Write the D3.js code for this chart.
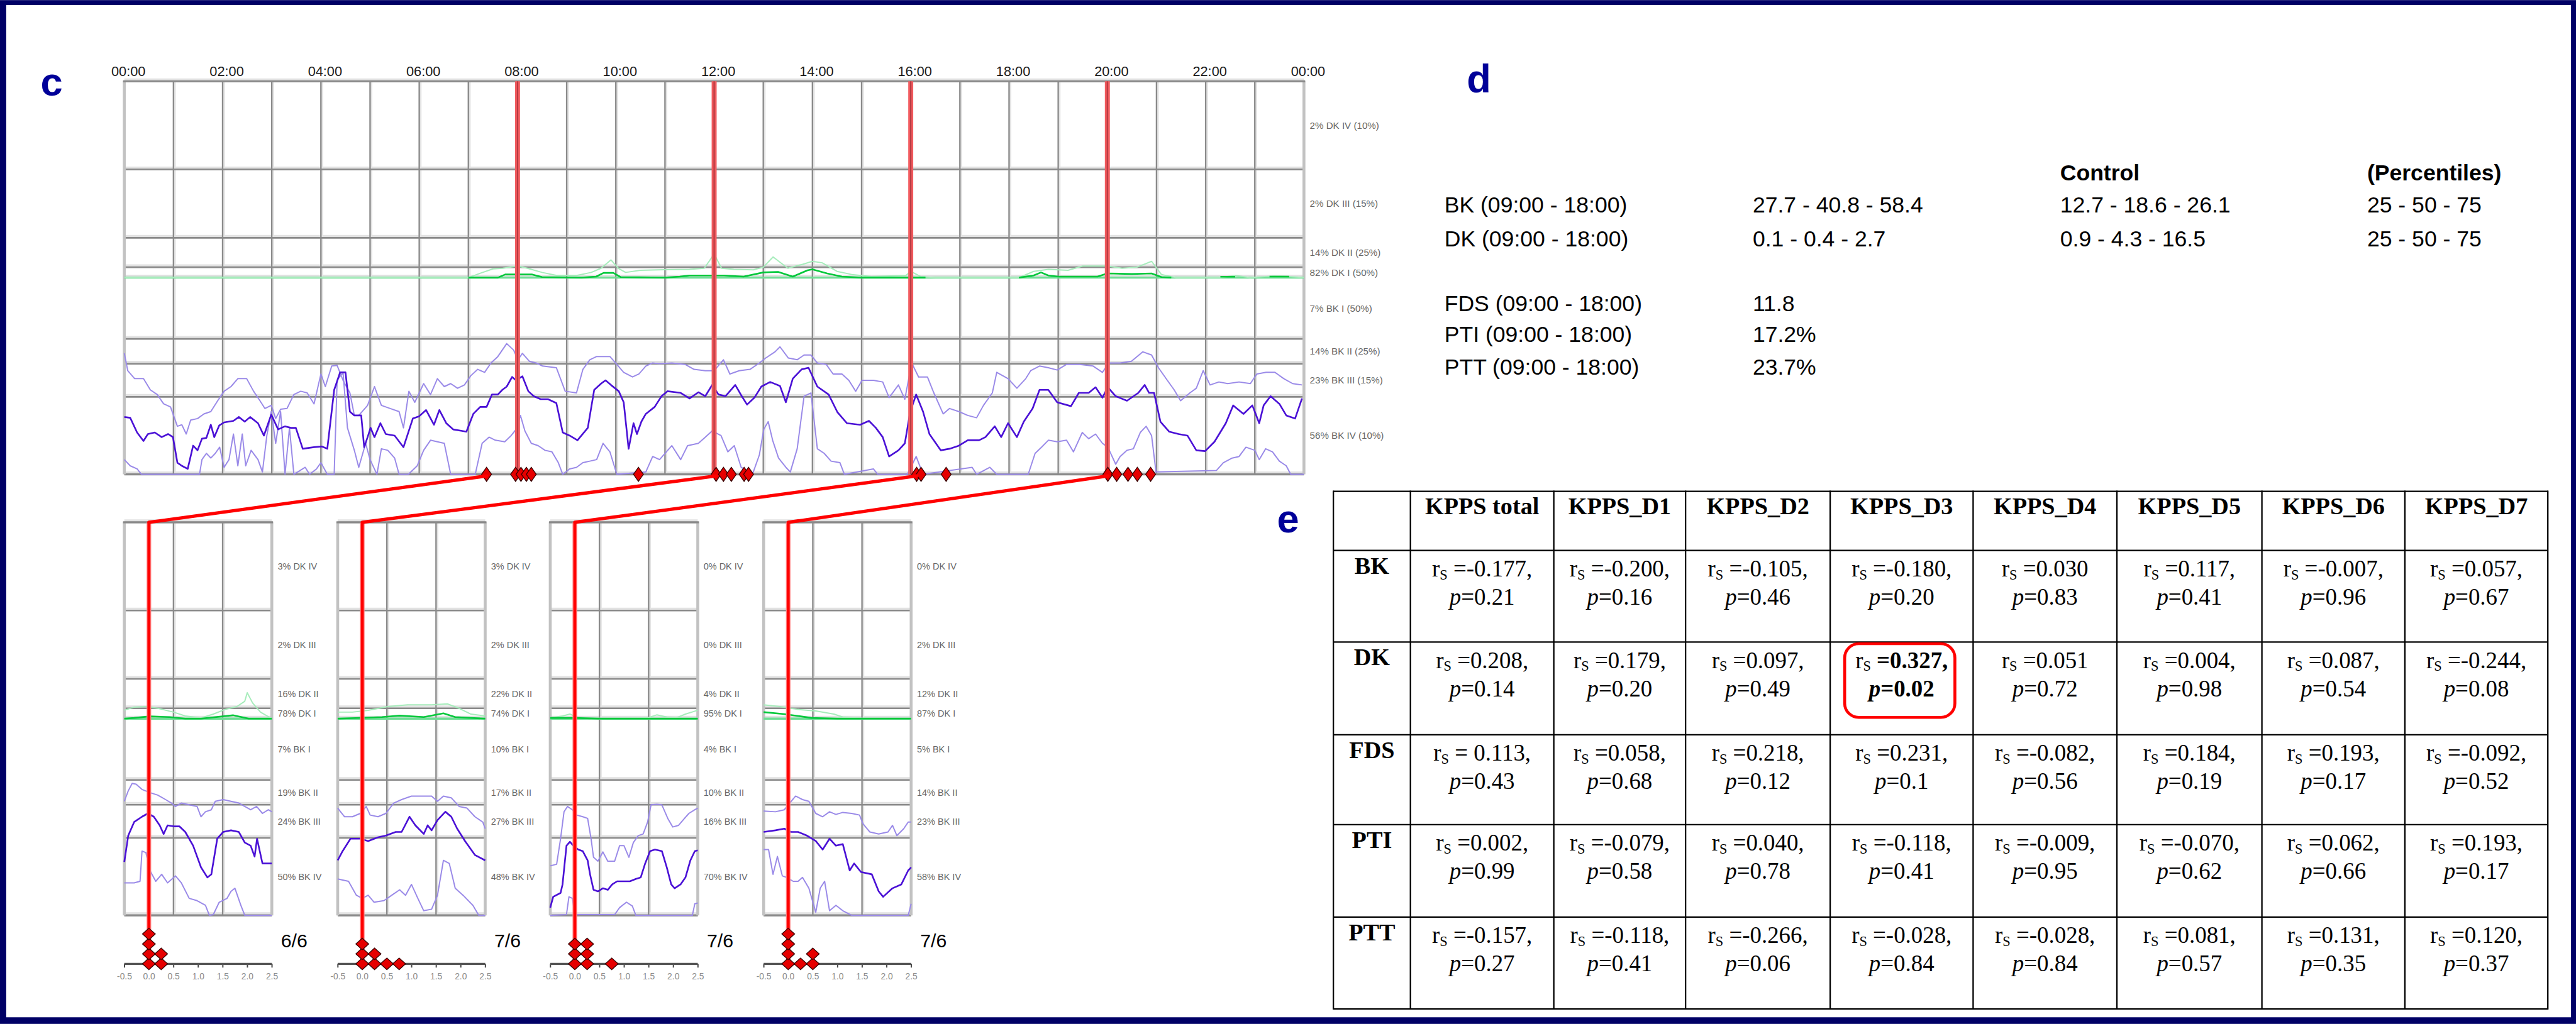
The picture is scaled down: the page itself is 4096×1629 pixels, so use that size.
<!DOCTYPE html>
<html><head><meta charset="utf-8">
<script src="https://cdn.jsdelivr.net/npm/d3@7"></script>
<style>html,body{margin:0;padding:0;background:#fff;overflow:hidden}</style>
</head><body>
<svg id="fig" width="4096" height="1629" viewBox="0 0 6217 2472"></svg>
<script>
// ---------- 24 h kinetigraph (panel c, top) ----------
const hourTicks = ["00:00","02:00","04:00","06:00","08:00","10:00","12:00","14:00","16:00","18:00","20:00","22:00","00:00"];
const dayBandLabels = ["2% DK IV (10%)","2% DK III (15%)","14% DK II (25%)","82% DK I (50%)","7% BK I (50%)","14% BK II (25%)","23% BK III (15%)","56% BK IV (10%)"];
// [hour, band level]; BK levels grow downward from the baseline, DK levels upward
const bkMedianDay = [[0,3.26],[0.12,3.27],[0.26,3.46],[0.39,3.57],[0.48,3.48],[0.62,3.46],[0.76,3.52],[0.89,3.48],[0.99,3.52],[1.08,3.85],[1.17,3.89],[1.29,3.93],[1.40,3.63],[1.49,3.69],[1.58,3.54],[1.67,3.53],[1.76,3.36],[1.83,3.52],[1.93,3.37],[2.03,3.33],[2.22,3.31],[2.33,3.26],[2.45,3.32],[2.56,3.26],[2.72,3.34],[2.84,3.50],[2.99,3.23],[3.13,3.42],[3.27,3.38],[3.39,3.40],[3.49,3.40],[3.63,3.67],[3.86,3.65],[4.02,3.64],[4.13,3.67],[4.27,2.79],[4.39,2.26],[4.50,2.26],[4.59,3.19],[4.68,3.24],[4.82,3.24],[4.88,3.65],[4.95,3.52],[5.01,3.40],[5.09,3.52],[5.21,3.34],[5.32,3.48],[5.50,3.50],[5.68,3.65],[5.87,3.28],[6.00,3.25],[6.14,3.17],[6.30,3.36],[6.41,3.17],[6.55,3.34],[6.69,3.42],[6.87,3.44],[6.96,3.45],[7.10,3.22],[7.24,3.13],[7.37,3.13],[7.48,2.93],[7.60,2.93],[7.69,2.79],[7.78,2.69],[7.89,2.40],[7.97,2.50],[8.10,2.38],[8.22,2.83],[8.33,2.98],[8.47,3.03],[8.62,3.03],[8.79,3.08],[8.92,3.46],[9.06,3.50],[9.22,3.56],[9.43,3.40],[9.56,2.79],[9.70,2.60],[9.79,2.50],[9.90,2.64],[10.06,2.83],[10.16,3.07],[10.26,3.67],[10.36,3.34],[10.43,3.48],[10.52,3.32],[10.61,3.22],[10.79,3.13],[10.93,2.98],[11.05,2.83],[11.32,2.88],[11.50,3.02],[11.68,2.86],[11.82,2.98],[11.96,2.64],[12.09,2.93],[12.23,2.98],[12.43,2.64],[12.55,2.95],[12.67,3.10],[12.82,3.01],[12.96,2.69],[13.14,2.55],[13.34,2.67],[13.46,3.07],[13.60,2.45],[13.78,2.17],[13.92,2.12],[14.10,2.69],[14.33,2.93],[14.51,3.20],[14.70,3.34],[14.97,3.36],[15.15,3.31],[15.29,3.40],[15.43,3.52],[15.56,3.77],[15.75,3.69],[15.88,3.60],[15.99,3.19],[16.11,2.93],[16.25,3.19],[16.38,3.48],[16.61,3.69],[16.79,3.67],[16.98,3.63],[17.16,3.56],[17.39,3.56],[17.52,3.52],[17.71,3.38],[17.84,3.52],[17.98,3.34],[18.16,3.52],[18.30,3.32],[18.48,3.15],[18.62,2.79],[18.80,2.79],[18.98,3.07],[19.26,3.12],[19.42,2.88],[19.62,2.88],[19.76,2.71],[19.90,3.01],[20.01,2.71],[20.17,2.98],[20.40,3.05],[20.63,2.88],[20.76,2.64],[20.85,2.88],[20.95,2.88],[21.08,3.32],[21.26,3.45],[21.45,3.48],[21.63,3.50],[21.81,3.69],[21.99,3.70],[22.18,3.58],[22.41,3.34],[22.56,3.11],[22.77,3.22],[22.95,3.11],[23.09,3.34],[23.18,3.11],[23.32,2.98],[23.50,3.09],[23.64,3.24],[23.82,3.28],[23.96,3.02]];
const bkLowerDay = [[0,1.58],[0.07,2.21],[0.21,2.45],[0.39,2.45],[0.53,2.79],[0.67,2.93],[0.80,3.09],[0.94,3.13],[1.08,3.38],[1.17,3.36],[1.26,3.48],[1.35,3.30],[1.49,3.28],[1.62,3.22],[1.76,3.19],[1.90,3.05],[2.03,2.83],[2.17,2.69],[2.31,2.45],[2.49,2.45],[2.63,2.83],[2.76,3.05],[2.86,3.15],[2.99,3.11],[3.08,3.28],[3.18,3.16],[3.31,3.15],[3.45,2.93],[3.59,2.83],[3.72,2.88],[3.86,3.09],[4.00,2.31],[4.09,2.69],[4.22,2.07],[4.33,2.05],[4.45,2.50],[4.59,2.88],[4.68,3.24],[4.77,3.24],[4.95,3.11],[5.09,2.69],[5.23,3.11],[5.41,3.15],[5.59,3.19],[5.68,3.40],[5.79,2.83],[5.91,3.07],[6.09,2.60],[6.23,2.93],[6.37,2.45],[6.51,2.69],[6.64,2.60],[6.78,2.74],[6.92,2.64],[7.05,2.36],[7.19,2.17],[7.33,2.26],[7.46,1.97],[7.60,1.71],[7.78,1.19],[7.92,1.45],[8.01,1.84],[8.10,1.58],[8.24,1.90],[8.38,1.97],[8.51,2.07],[8.79,2.12],[8.97,2.83],[9.20,2.88],[9.33,2.17],[9.47,1.84],[9.61,1.71],[9.88,1.71],[10.02,2.02],[10.16,2.26],[10.34,2.40],[10.47,2.31],[10.61,2.07],[10.75,1.97],[10.89,2.00],[11.14,1.97],[11.41,2.02],[11.59,2.17],[11.82,2.21],[12.00,2.21],[12.19,1.84],[12.32,2.31],[12.51,2.21],[12.73,2.17],[12.92,1.97],[13.05,1.77],[13.24,1.52],[13.34,1.32],[13.51,1.77],[13.69,1.84],[13.83,1.65],[13.97,1.65],[14.10,1.97],[14.28,2.02],[14.42,2.31],[14.60,2.31],[14.74,2.50],[14.88,2.83],[15.01,2.50],[15.24,2.50],[15.43,2.55],[15.56,3.01],[15.75,2.64],[15.88,3.03],[16.02,1.97],[16.16,2.40],[16.34,2.40],[16.47,2.88],[16.66,3.22],[16.79,3.15],[16.98,3.19],[17.16,3.24],[17.34,3.27],[17.48,3.11],[17.66,2.88],[17.75,2.26],[17.98,2.45],[18.16,2.74],[18.34,2.45],[18.44,2.21],[18.62,2.07],[18.80,2.12],[18.98,2.19],[19.17,2.02],[19.44,2.02],[19.71,2.07],[19.90,2.26],[20.03,1.97],[20.26,1.97],[20.49,1.90],[20.72,1.52],[20.90,1.65],[21.04,2.12],[21.22,2.50],[21.36,2.79],[21.49,3.05],[21.68,2.88],[21.81,2.74],[21.95,2.21],[22.09,2.64],[22.27,2.55],[22.45,2.60],[22.68,2.55],[22.91,2.60],[23.04,2.31],[23.23,2.26],[23.41,2.26],[23.59,2.45],[23.77,2.60],[23.96,2.64]];
const bkUpperDay = [[0,3.81],[0.12,3.89],[0.26,3.93],[0.35,4],[1.53,4],[1.58,3.81],[1.67,3.73],[1.76,3.79],[1.85,3.73],[1.94,3.65],[2.03,3.91],[2.13,3.81],[2.22,3.48],[2.31,3.89],[2.40,3.48],[2.47,3.89],[2.58,3.69],[2.72,3.81],[2.81,3.97],[2.90,3.50],[2.99,3.19],[3.08,3.60],[3.18,3.19],[3.27,4],[3.36,3.40],[3.45,4],[3.68,3.91],[3.77,4],[3.91,3.93],[4.00,3.85],[4.13,4],[4.27,4],[4.33,2.50],[4.45,2.26],[4.54,3.40],[4.68,3.69],[4.77,3.91],[4.91,3.60],[5.00,3.81],[5.14,4],[5.23,3.67],[5.36,3.69],[5.50,3.79],[5.59,4],[5.78,4],[5.96,3.89],[6.09,3.69],[6.23,3.56],[6.37,3.58],[6.51,3.60],[6.64,4],[7.14,4],[7.28,3.60],[7.42,3.52],[7.55,3.56],[7.74,3.58],[7.87,3.50],[7.97,3.42],[8.06,3.24],[8.15,3.44],[8.28,3.60],[8.42,3.63],[8.56,3.69],[8.70,3.71],[8.83,3.85],[8.92,4],[9.06,3.93],[9.20,3.91],[9.33,3.85],[9.47,3.83],[9.61,3.81],[9.74,3.60],[9.88,3.71],[10.02,4],[10.61,3.97],[10.75,3.77],[10.89,3.81],[11.14,3.63],[11.32,3.81],[11.46,3.63],[11.68,3.60],[11.82,3.52],[11.96,3.44],[12.14,3.50],[12.28,3.71],[12.41,3.63],[12.55,3.91],[12.78,4],[12.92,3.75],[13.01,3.42],[13.10,3.32],[13.19,3.56],[13.31,3.79],[13.46,3.91],[13.55,3.97],[13.69,3.67],[13.83,2.98],[13.97,2.88],[14.10,3.67],[14.24,3.73],[14.38,3.83],[14.56,3.85],[14.65,4],[15.24,3.93],[15.33,4],[15.93,4],[16.11,3.77],[16.25,4],[17.25,3.91],[17.34,4],[17.61,3.91],[17.75,4],[18.39,4],[18.53,3.73],[18.66,3.65],[18.80,3.56],[18.98,3.58],[19.17,3.56],[19.31,3.71],[19.49,3.46],[19.62,3.54],[19.76,3.48],[19.90,3.60],[20.01,3.65],[20.17,3.87],[20.26,3.77],[20.40,3.69],[20.53,3.67],[20.67,3.46],[20.79,3.38],[20.90,3.50],[20.99,3.97],[22.22,3.95],[22.36,3.85],[22.54,3.79],[22.68,3.77],[22.82,3.65],[23.00,3.69],[23.09,3.81],[23.22,3.67],[23.36,3.71],[23.50,3.83],[23.64,3.89],[23.73,4],[24,4]];
const dkLowerDay = [[0,0],[24,0]];
const dkMedianDay = [[7.0,0],[7.6,0],[7.75,0.3],[8.3,0.3],[8.5,0.05],[9.3,0],[9.6,0.1],[9.75,0.45],[9.95,0.45],[10.1,0.05],[11.0,0],[11.3,0.1],[11.5,0.2],[12.2,0.2],[12.6,0.1],[13.0,0.5],[13.3,0.55],[13.6,0.1],[13.9,0.7],[14.0,0.8],[14.3,0.4],[14.6,0.1],[15.0,0],[16.3,0],[16.35,null],[18.2,0],[18.5,0.2],[18.65,0.5],[18.8,0.2],[19.0,0.1],[19.8,0.1],[20.0,0.4],[20.5,0.35],[20.9,0.4],[21.1,0.05],[21.3,0],[21.35,null],[22.3,0.08],[22.6,0.08],[22.65,null],[23.3,0.1],[23.7,0.1]];
const dkUpperDay = [[0,0],[7.0,0],[7.2,0.35],[7.5,0.84],[7.7,0.9],[8.0,1.04],[8.2,0.9],[8.5,0.5],[8.8,0.2],[9.2,0.2],[9.5,0.5],[9.7,0.9],[9.9,1.25],[10.05,0.9],[10.2,0.5],[10.5,0.7],[11.0,0.76],[11.5,0.8],[11.8,0.9],[12.0,1.45],[12.15,0.9],[12.4,0.8],[12.8,0.75],[13.0,1.0],[13.2,1.35],[13.5,0.9],[13.8,1.1],[14.0,1.2],[14.2,1.15],[14.5,0.6],[14.8,0.3],[15.2,0.1],[15.9,0.2],[16.0,0.6],[16.2,0.1],[16.5,0],[18.2,0],[18.5,0.6],[18.8,0.8],[19.2,0.7],[19.5,1.04],[20.0,1.04],[20.3,0.9],[20.6,1.0],[20.9,1.2],[21.1,0.3],[21.4,0],[22.3,0],[22.6,0.2],[22.9,0],[23.4,0.15],[23.7,0.1],[24,0]];
const markerHours = [8, 12, 16, 20];
const doseHours = [7.37, 7.96, 8.07, 8.18, 8.28, 10.46, 12.04, 12.19, 12.35, 12.61, 12.70, 16.12, 16.21, 16.72, 20.01, 20.19, 20.42, 20.61, 20.88];
const windowStartHours = [7.37, 12.04, 16.12, 20.01];

// ---------- dose-aligned 3 h windows (panel c, bottom) ----------
const windowDates = ["6/6", "7/6", "7/6", "7/6"];
const win1Labels = ["3% DK IV","2% DK III","16% DK II","78% DK I","7% BK I","19% BK II","24% BK III","50% BK IV"];
const win2Labels = ["3% DK IV","2% DK III","22% DK II","74% DK I","10% BK I","17% BK II","27% BK III","48% BK IV"];
const win3Labels = ["0% DK IV","0% DK III","4% DK II","95% DK I","4% BK I","10% BK II","16% BK III","70% BK IV"];
const win4Labels = ["0% DK IV","2% DK III","12% DK II","87% DK I","5% BK I","14% BK II","23% BK III","58% BK IV"];

const win1BkLower = [[-0.5,1.86],[-0.42,1.44],[-0.34,1.14],[-0.26,1.17],[-0.14,1.38],[0.02,1.51],[0.18,1.61],[0.34,1.79],[0.46,1.93],[0.54,2.05],[0.66,1.93],[0.82,2.0],[0.98,2.05],[1.06,2.36],[1.15,2.21],[1.27,2.15],[1.35,1.86],[1.51,1.79],[1.67,1.86],[1.83,1.93],[1.95,2.05],[2.07,2.15],[2.19,2.05],[2.31,2.26],[2.43,2.15],[2.5,2.21]];
const win1BkMedian = [[-0.5,3.31],[-0.42,2.93],[-0.30,2.52],[-0.14,2.36],[-0.02,2.26],[0.10,2.36],[0.22,2.62],[0.30,2.88],[0.38,2.62],[0.50,2.65],[0.62,2.65],[0.74,2.82],[0.90,3.10],[1.06,3.38],[1.19,3.51],[1.27,3.47],[1.39,3.01],[1.51,2.82],[1.67,2.77],[1.83,2.82],[1.95,3.06],[2.07,3.10],[2.15,3.24],[2.20,3.01],[2.31,3.33],[2.5,3.33]];
const win1BkUpper = [[-0.5,3.58],[-0.30,3.58],[-0.18,3.56],[-0.14,3.17],[-0.06,3.19],[0.02,3.42],[0.14,3.56],[0.26,3.47],[0.38,3.58],[0.54,3.49],[0.66,3.58],[0.82,3.78],[0.98,3.81],[1.15,3.87],[1.23,4],[1.31,3.99],[1.43,3.83],[1.59,3.78],[1.67,3.69],[1.75,3.65],[1.87,3.87],[1.95,4],[2.5,4]];
const win1DkMedian = [[-0.5,0],[-0.3,0.07],[0.02,0.22],[0.42,0.15],[0.74,0],[1.06,0],[1.71,0.33],[2.03,0],[2.5,0]];
const win1DkUpper = [[-0.5,0.81],[-0.3,1.04],[-0.06,1.06],[0.18,1.0],[0.5,0.63],[0.74,0.26],[1.06,0.07],[1.31,0.44],[1.55,0.89],[1.79,1.06],[1.95,1.24],[2.0,1.53],[2.11,1.18],[2.27,0.63],[2.5,0]];

const win2BkLower = [[-0.5,2.10],[-0.36,2.36],[-0.2,2.36],[-0.04,2.26],[0.08,2.05],[0.16,2.31],[0.32,2.36],[0.48,2.26],[0.64,1.93],[0.8,1.79],[1.0,1.65],[1.2,1.65],[1.41,1.65],[1.53,1.86],[1.65,1.65],[1.81,1.72],[1.97,2.05],[2.13,2.10],[2.29,2.36],[2.45,2.52],[2.5,2.72]];
const win2BkMedian = [[-0.5,3.29],[-0.4,3.17],[-0.24,3.01],[-0.04,3.01],[0.12,3.04],[0.32,2.98],[0.48,2.93],[0.68,2.82],[0.80,2.82],[0.96,2.36],[1.08,2.62],[1.25,2.88],[1.33,2.62],[1.41,2.77],[1.53,2.46],[1.69,2.21],[1.81,2.36],[1.93,2.72],[2.09,3.04],[2.29,3.22],[2.5,3.29]];
const win2BkUpper = [[-0.5,3.53],[-0.28,3.56],[-0.12,3.74],[0.0,3.78],[0.12,3.74],[0.24,3.83],[0.44,3.81],[0.6,3.74],[0.76,3.67],[0.88,3.74],[1.0,3.60],[1.13,3.78],[1.25,3.94],[1.41,3.92],[1.53,3.74],[1.65,3.29],[1.77,3.33],[1.89,3.65],[2.05,3.74],[2.25,3.87],[2.37,4],[2.5,4]];
const win2DkMedian = [[-0.5,0],[0.4,0.15],[0.76,0.3],[1.25,0.15],[1.65,0.52],[1.89,0.15],[2.5,0]];
const win2DkUpper = [[-0.5,0.63],[-0.2,0.63],[0.12,0.81],[0.52,1.06],[0.92,1.12],[1.41,1.12],[1.73,1.15],[1.97,1.0],[2.21,0.44],[2.5,0.26]];

const win3BkLower = [[-0.5,3.36],[-0.37,3.34],[-0.29,3.01],[-0.22,2.21],[-0.15,2.05],[-0.05,2.15],[0.04,2.31],[0.16,2.36],[0.26,2.41],[0.33,3.01],[0.38,3.25],[0.47,3.30],[0.57,3.18],[0.67,3.30],[0.81,3.30],[0.91,3.10],[1.0,3.10],[1.1,3.25],[1.19,3.06],[1.29,2.93],[1.39,2.88],[1.48,2.52],[1.55,2.0],[1.67,1.98],[1.77,2.0],[1.89,2.41],[1.99,2.67],[2.11,2.62],[2.2,2.46],[2.32,2.26],[2.44,2.15],[2.5,2.10]];
const win3BkMedian = [[-0.5,3.90],[-0.44,3.76],[-0.29,3.71],[-0.25,3.60],[-0.17,3.10],[-0.10,3.05],[-0.03,3.10],[0.07,3.15],[0.16,3.17],[0.26,3.29],[0.31,3.47],[0.38,3.67],[0.47,3.69],[0.57,3.65],[0.67,3.67],[0.76,3.60],[0.86,3.56],[1.0,3.56],[1.12,3.56],[1.24,3.53],[1.34,3.51],[1.43,3.33],[1.53,3.17],[1.63,3.15],[1.77,3.17],[1.87,3.38],[1.96,3.60],[2.03,3.65],[2.15,3.60],[2.25,3.51],[2.35,3.29],[2.44,3.17],[2.5,3.16]];
const win3BkUpper = [[-0.5,4],[-0.17,3.99],[-0.12,3.76],[-0.05,3.78],[0.0,3.99],[0.81,3.99],[0.91,3.90],[1.05,3.83],[1.17,3.88],[1.24,4],[2.39,4],[2.44,3.85],[2.5,3.84]];
const win3DkMedian = [[-0.5,0.07],[0.0,0.07],[0.5,0],[2.5,0]];
const win3DkUpper = [[-0.5,0.07],[-0.25,0.26],[-0.1,0.44],[0.04,0.15],[0.33,0],[1.48,0.07],[1.67,0.37],[1.87,0.15],[2.06,0.07],[2.25,0.44],[2.5,0.81]];

const win4BkLower = [[-0.5,2.19],[-0.26,2.21],[-0.08,2.15],[0.06,1.86],[0.15,1.65],[0.29,1.79],[0.42,1.86],[0.56,2.26],[0.7,2.36],[0.84,2.21],[0.97,2.29],[1.11,2.23],[1.29,2.26],[1.45,2.31],[1.52,2.57],[1.66,2.82],[1.84,2.88],[2.03,2.82],[2.12,2.62],[2.21,2.93],[2.35,2.72],[2.44,2.52],[2.5,2.52]];
const win4BkMedian = [[-0.5,2.82],[-0.26,2.77],[-0.08,2.72],[0.06,2.82],[0.2,2.82],[0.38,2.93],[0.56,3.04],[0.7,3.15],[0.84,3.01],[0.97,3.10],[1.11,3.08],[1.25,3.42],[1.34,3.33],[1.48,3.44],[1.7,3.47],[1.84,3.69],[1.93,3.76],[2.12,3.65],[2.3,3.60],[2.44,3.42],[2.5,3.38]];
const win4BkUpper = [[-0.5,3.15],[-0.4,3.15],[-0.31,3.47],[-0.22,3.24],[-0.12,3.49],[-0.03,3.51],[0.1,3.56],[0.2,3.56],[0.29,3.51],[0.42,3.65],[0.56,3.96],[0.65,3.65],[0.74,3.56],[0.84,3.94],[0.97,3.87],[1.11,3.94],[1.29,4],[2.44,4],[2.5,3.85]];
const win4DkMedian = [[-0.5,0.63],[-0.08,0.44],[0.2,0.26],[0.47,0.07],[1.0,0],[2.5,0]];
const win4DkUpper = [[-0.5,1.12],[-0.17,1.06],[0.2,0.89],[0.56,0.74],[0.93,0.44],[1.11,0.15],[1.57,0],[2.5,0]];
const winDkLower = [[-0.5,0],[2.5,0]];

// dose offsets (h) stacked under each window
const win1Doses = [0,0,0,0,0.25,0.25];
const win2Doses = [0,0,0,0.25,0.25,0.5,0.75];
const win3Doses = [0,0,0,0.25,0.25,0.25,0.75];
const win4Doses = [0,0,0,0,0.25,0.5,0.5];
const winTicks = [-0.5,0,0.5,1,1.5,2,2.5];

// ---------- panel d ----------
const summaryHeads = ["Control", "(Percentiles)"];
const summaryNames = ["BK (09:00 - 18:00)", "DK (09:00 - 18:00)", "FDS (09:00 - 18:00)", "PTI (09:00 - 18:00)", "PTT (09:00 - 18:00)"];
const summaryPatient = ["27.7 - 40.8 - 58.4", "0.1 - 0.4 - 2.7", "11.8", "17.2%", "23.7%"];
const summaryControl = ["12.7 - 18.6 - 26.1", "0.9 - 4.3 - 16.5"];
const summaryPct = ["25 - 50 - 75", "25 - 50 - 75"];

// ---------- panel e ----------
const kppsColumns = ["KPPS total","KPPS_D1","KPPS_D2","KPPS_D3","KPPS_D4","KPPS_D5","KPPS_D6","KPPS_D7"];
const pkgMeasures = ["BK","DK","FDS","PTI","PTT"];
const rsBK  = ["=-0.177,","=-0.200,","=-0.105,","=-0.180,","=0.030","=0.117,","=-0.007,","=0.057,"];
const pBK   = ["0.21","0.16","0.46","0.20","0.83","0.41","0.96","0.67"];
const rsDK  = ["=0.208,","=0.179,","=0.097,","=0.327,","=0.051","=0.004,","=0.087,","=-0.244,"];
const pDK   = ["0.14","0.20","0.49","0.02","0.72","0.98","0.54","0.08"];
const rsFDS = ["= 0.113,","=0.058,","=0.218,","=0.231,","=-0.082,","=0.184,","=0.193,","=-0.092,"];
const pFDS  = ["0.43","0.68","0.12","0.1","0.56","0.19","0.17","0.52"];
const rsPTI = ["=0.002,","=-0.079,","=0.040,","=-0.118,","=-0.009,","=-0.070,","=0.062,","=0.193,"];
const pPTI  = ["0.99","0.58","0.78","0.41","0.95","0.62","0.66","0.17"];
const rsPTT = ["=-0.157,","=-0.118,","=-0.266,","=-0.028,","=-0.028,","=0.081,","=0.131,","=0.120,"];
const pPTT  = ["0.27","0.41","0.06","0.84","0.84","0.57","0.35","0.37"];
const highlightCell = ["DK", "KPPS_D3"];

// ================= drawing =================
const svg = d3.select("#fig");
const SANS = "'Liberation Sans', Arial, sans-serif";
const SERIF = "'Liberation Serif', 'Times New Roman', serif";
const C = {
  frame: "#000066", letter: "#000099", grid: "#8a8a8a", halo: "#e2e2e2", side: "#c2c2c2",
  bkMed: "#4a10d6", bkPct: "#9a8ae8", dkMed: "#00c83a", dkPct: "#a6ecbb", dkBase: "#6fde95",
  mark: "#f05a5e", link: "#ff0000", dose: "#e60000"
};

svg.append("rect").attr("width", 6217).attr("height", 2472).attr("fill", C.frame);
svg.append("rect").attr("x", 15).attr("y", 12).attr("width", 6217 - 27).attr("height", 2472 - 28).attr("fill", "#fff");

// panel letters
[["c", 98, 230], ["d", 3540, 223], ["e", 3082, 1285]].forEach(([t, x, y]) =>
  svg.append("text").attr("x", x).attr("y", y).text(t)
    .attr("font-family", SANS).attr("font-weight", "bold").attr("font-size", 96).attr("fill", C.letter));

// band geometry shared by the day profile and the windows (offsets from panel top)
const DK_STOPS = [474, 449, 378, 213, 0];
const BK_STOPS = [474, 622, 682, 762, 949];
const PANEL_H = 949;

function bandScales(top) {
  return {
    dk: d3.scaleLinear().domain([0, 1, 2, 3, 4]).range(DK_STOPS.map(o => top + o)),
    bk: d3.scaleLinear().domain([0, 1, 2, 3, 4]).range(BK_STOPS.map(o => top + o))
  };
}

function hLine(g, x0, x1, y, col, w) {
  g.append("line").attr("x1", x0).attr("x2", x1).attr("y1", y).attr("y2", y).attr("stroke", col).attr("stroke-width", w);
}
function vLine(g, x, y0, y1, col, w) {
  g.append("line").attr("x1", x).attr("x2", x).attr("y1", y0).attr("y2", y1).attr("stroke", col).attr("stroke-width", w);
}

function drawProfile(g, x, top, cfg) {
  const y = bandScales(top);
  const [x0, x1] = x.range();
  const bottom = top + PANEL_H;
  const hy = [0, 1, 2, 3, 4].map(k => y.dk(k)).concat([1, 2, 3, 4].map(k => y.bk(k)));
  // soft halos, then the grid itself
  cfg.vgrid.forEach(h => vLine(g, x(h) + 3, top, bottom, C.halo, 5));
  hy.concat([bottom]).forEach(v => hLine(g, x0, x1, v - 4, C.halo, 6));
  cfg.vgrid.forEach(h => vLine(g, x(h), top, bottom, C.grid, 3.5));
  hy.forEach(v => hLine(g, x0, x1, v, C.grid, 4));
  hLine(g, x0, x1, bottom, C.grid, 5);
  [x0, x1].forEach(v => vLine(g, v, top, bottom, C.side, 7));
  hLine(g, x0 - 3, x1 + 3, top, C.grid, 5);

  const dkLine = d3.line().defined(d => d[1] !== null).x(d => x(d[0])).y(d => y.dk(d[1]));
  const bkLine = d3.line().defined(d => d[1] !== null).x(d => x(d[0])).y(d => y.bk(d[1]));
  const path = (data, gen, col, w) => g.append("path").datum(data).attr("d", gen)
    .attr("fill", "none").attr("stroke", col).attr("stroke-width", w).attr("stroke-linejoin", "round");

  path(cfg.dkLower, dkLine, C.dkBase, 5);
  path(cfg.dkUpper, dkLine, C.dkPct, 3);
  path(cfg.dkMedian, dkLine, C.dkMed, 4);
  path(cfg.bkLower, bkLine, C.bkPct, 3);
  path(cfg.bkUpper, bkLine, C.bkPct, 3);
  path(cfg.bkMedian, bkLine, C.bkMed, 4);

  // band labels
  const ly = [3.5, 2.5, 1.5, 0.5].map(k => y.dk(k)).concat([0.5, 1.5, 2.5, 3.5].map(k => y.bk(k)));
  cfg.labels.forEach((t, i) => g.append("text").attr("x", x1 + cfg.lx).attr("y", ly[i]).attr("dy", "0.36em").text(t)
    .attr("font-family", SANS).attr("font-size", cfg.lfs).attr("fill", "#666"));
  return y;
}

function diamond(g, cx, cy, w, h) {
  g.append("path").attr("d", `M${cx},${cy - h / 2}L${cx + w / 2},${cy}L${cx},${cy + h / 2}L${cx - w / 2},${cy}Z`)
    .attr("fill", C.dose).attr("stroke", "#3a0000").attr("stroke-width", 2);
}

// ---- day profile ----
const dayTop = 196;
const xDay = d3.scaleLinear().domain([0, 24]).range([300, 3147]);
const gDay = svg.append("g");
drawProfile(gDay, xDay, dayTop, {
  vgrid: d3.range(1, 24), lx: 14, lfs: 23, labels: dayBandLabels,
  bkMedian: bkMedianDay, bkLower: bkLowerDay, bkUpper: bkUpperDay,
  dkMedian: dkMedianDay, dkUpper: dkUpperDay, dkLower: dkLowerDay
});
hourTicks.forEach((t, i) => gDay.append("text").attr("x", xDay(i * 2) + 10).attr("y", 184).attr("text-anchor", "middle").text(t)
  .attr("font-family", SANS).attr("font-size", 33).attr("fill", "#1a1a1a"));
markerHours.forEach(h => {
  vLine(gDay, xDay(h), dayTop, dayTop + PANEL_H, C.mark, 12);
  vLine(gDay, xDay(h), dayTop, dayTop + PANEL_H, "#b23a40", 3);
});
doseHours.forEach(h => diamond(gDay, xDay(h), dayTop + PANEL_H, 24, 34));

// ---- windows ----
const winLefts = [300, 815, 1328, 1843];
const winW = 356, winTop = 1261, axisY = 2327;
const winTable = [
  { labels: win1Labels, bkMedian: win1BkMedian, bkLower: win1BkLower, bkUpper: win1BkUpper, dkMedian: win1DkMedian, dkUpper: win1DkUpper, doses: win1Doses },
  { labels: win2Labels, bkMedian: win2BkMedian, bkLower: win2BkLower, bkUpper: win2BkUpper, dkMedian: win2DkMedian, dkUpper: win2DkUpper, doses: win2Doses },
  { labels: win3Labels, bkMedian: win3BkMedian, bkLower: win3BkLower, bkUpper: win3BkUpper, dkMedian: win3DkMedian, dkUpper: win3DkUpper, doses: win3Doses },
  { labels: win4Labels, bkMedian: win4BkMedian, bkLower: win4BkLower, bkUpper: win4BkUpper, dkMedian: win4DkMedian, dkUpper: win4DkUpper, doses: win4Doses }
];
const gWin = svg.append("g");
winTable.forEach((w, i) => {
  const g = gWin.append("g");
  const x = d3.scaleLinear().domain([-0.5, 2.5]).range([winLefts[i], winLefts[i] + winW]);
  drawProfile(g, x, winTop, Object.assign({ vgrid: [0.5, 1.5], lx: 14, lfs: 22, dkLower: winDkLower }, w));
  // dose-time line
  vLine(g, x(0), winTop, axisY, "#ff8080", 11);
  vLine(g, x(0), winTop, axisY, C.link, 7);
  // hour axis
  const ax = g.append("g").attr("transform", `translate(0,${axisY})`)
    .call(d3.axisBottom(x).tickValues(winTicks).tickSize(9).tickPadding(14).tickFormat(d => d.toFixed(1)));
  ax.select(".domain").remove();
  ax.selectAll(".tick line").attr("stroke", "#444").attr("stroke-width", 3);
  ax.selectAll(".tick text").attr("font-family", SANS).attr("font-size", 21).attr("fill", "#8a8a8a");
  hLine(g, x(-0.5), x(2.5), axisY, "#555", 5);
  // stacked dose markers
  const seen = {};
  w.doses.forEach(d => {
    const k = seen[d] || 0; seen[d] = k + 1;
    diamond(g, x(d), axisY - k * 24, 31, 28);
  });
  g.append("text").attr("x", winLefts[i] + winW + 22).attr("y", 2287).text(windowDates[i])
    .attr("font-family", SANS).attr("font-size", 46).attr("fill", "#000");
  // link from the day profile to this window
  svg.append("line").attr("x1", xDay(windowStartHours[i])).attr("y1", dayTop + PANEL_H + 4)
    .attr("x2", x(0)).attr("y2", winTop).attr("stroke", C.link).attr("stroke-width", 8).attr("stroke-linecap", "round");
});

// ---- panel d ----
const gD = svg.append("g").attr("font-family", SANS).attr("font-size", 54).attr("fill", "#000");
const colX = [3486, 4230, 4972, 5713];
const rowY = [513, 594, 751, 826, 904];
gD.append("text").attr("x", colX[2]).attr("y", 436).attr("font-weight", "bold").text(summaryHeads[0]);
gD.append("text").attr("x", colX[3]).attr("y", 436).attr("font-weight", "bold").text(summaryHeads[1]);
summaryNames.forEach((t, i) => {
  gD.append("text").attr("x", colX[0]).attr("y", rowY[i]).text(t);
  gD.append("text").attr("x", colX[1]).attr("y", rowY[i]).text(summaryPatient[i]);
  if (i < 2) {
    gD.append("text").attr("x", colX[2]).attr("y", rowY[i]).text(summaryControl[i]);
    gD.append("text").attr("x", colX[3]).attr("y", rowY[i]).text(summaryPct[i]);
  }
});

// ---- panel e ----
const colEdges = [3218, 3404, 3750, 4068, 4417, 4762, 5109, 5459, 5804, 6149];
const rowEdges = [1186, 1329, 1550, 1774, 1991, 2214, 2436];
const rsRows = [rsBK, rsDK, rsFDS, rsPTI, rsPTT];
const pRows = [pBK, pDK, pFDS, pPTI, pPTT];
const gE = svg.append("g").attr("font-family", SERIF).attr("fill", "#000");
colEdges.forEach(v => vLine(gE, v, rowEdges[0] - 1.5, rowEdges[6] + 1.5, "#000", 3.5));
rowEdges.forEach(v => hLine(gE, colEdges[0], colEdges[9], v, "#000", 3.5));
const colMid = i => (colEdges[i] + colEdges[i + 1]) / 2;
kppsColumns.forEach((t, j) => gE.append("text").attr("x", colMid(j + 1)).attr("y", rowEdges[0] + 56).attr("text-anchor", "middle")
  .attr("font-size", 58).attr("font-weight", "bold").text(t));
pkgMeasures.forEach((m, i) => {
  const top = rowEdges[i + 1];
  gE.append("text").attr("x", colMid(0)).attr("y", top + 56).attr("text-anchor", "middle")
    .attr("font-size", 58).attr("font-weight", "bold").text(m);
  kppsColumns.forEach((k, j) => {
    const hot = m === highlightCell[0] && k === highlightCell[1];
    const cx = colMid(j + 1);
    const t1 = gE.append("text").attr("x", cx).attr("y", top + 63).attr("text-anchor", "middle").attr("font-size", 56);
    t1.append("tspan").text("r");
    t1.append("tspan").attr("font-size", 34).attr("dy", 7).text("S");
    t1.append("tspan").attr("dy", -7).attr("font-weight", hot ? "bold" : null).text(" " + rsRows[i][j]);
    const t2 = gE.append("text").attr("x", cx).attr("y", top + 131).attr("text-anchor", "middle").attr("font-size", 56)
      .attr("font-weight", hot ? "bold" : null);
    t2.append("tspan").attr("font-style", "italic").text("p");
    t2.append("tspan").text("=" + pRows[i][j]);
    if (hot) {
      gE.append("rect").attr("x", 4452).attr("y", top + 4).attr("width", 266).attr("height", 178).attr("rx", 34)
        .attr("fill", "none").attr("stroke", "#ff0000").attr("stroke-width", 7);
    }
  });
});
</script>
</body></html>
